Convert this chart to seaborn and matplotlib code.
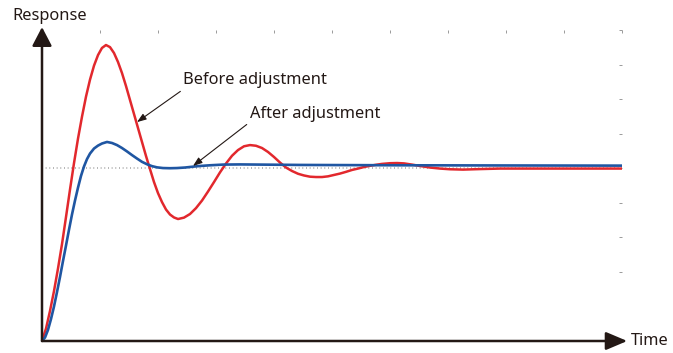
import numpy as np
import matplotlib
matplotlib.use("Agg")
import matplotlib.pyplot as plt
import seaborn as sns

# step response (time units, response units; setpoint = 1)
before_t = [0.0, 0.069, 0.138, 0.207, 0.276, 0.345, 0.414, 0.483, 0.552, 0.621,
            0.690, 0.759, 0.828, 0.897, 0.966, 1.034, 1.103, 1.172, 1.241, 1.310,
            1.379, 1.448, 1.517, 1.586, 1.655, 1.724, 1.793, 1.862, 1.931, 2.0,
            2.069, 2.138, 2.207, 2.276, 2.345, 2.448, 2.552, 2.655, 2.759, 2.862,
            2.966, 3.069, 3.172, 3.276, 3.379, 3.483, 3.586, 3.690, 3.793, 3.897,
            4.0, 4.103, 4.207, 4.310, 4.414, 4.517, 4.621, 4.724, 4.828, 4.931,
            5.034, 5.138, 5.241, 5.345, 5.448, 5.552, 5.655, 5.759, 5.862, 6.0,
            6.121, 6.241, 6.379, 6.517, 6.690, 6.862, 7.034, 7.259, 7.552, 7.897,
            8.414, 8.931, 9.448, 10.0]
before_r = [0.0, 0.072, 0.174, 0.289, 0.420, 0.561, 0.718, 0.877, 1.030, 1.172,
            1.299, 1.415, 1.513, 1.594, 1.655, 1.696, 1.713, 1.701, 1.667, 1.615,
            1.551, 1.476, 1.395, 1.314, 1.233, 1.152, 1.071, 0.995, 0.920, 0.856,
            0.804, 0.761, 0.732, 0.715, 0.706, 0.714, 0.735, 0.769, 0.813, 0.865,
            0.920, 0.976, 1.027, 1.072, 1.105, 1.127, 1.134, 1.130, 1.117, 1.094,
            1.065, 1.033, 1.004, 0.984, 0.968, 0.958, 0.951, 0.949, 0.949, 0.953,
            0.961, 0.969, 0.979, 0.990, 0.998, 1.007, 1.014, 1.020, 1.025, 1.029,
            1.030, 1.028, 1.021, 1.013, 1.004, 0.998, 0.994, 0.992, 0.995, 0.998,
            0.998, 0.998, 0.998, 0.998]

after_t = [0.0, 0.052, 0.103, 0.155, 0.207, 0.259, 0.310, 0.362, 0.414, 0.466,
           0.517, 0.569, 0.621, 0.672, 0.724, 0.776, 0.828, 0.897, 0.966, 1.034,
           1.121, 1.207, 1.293, 1.379, 1.466, 1.552, 1.638, 1.724, 1.810, 1.897,
           1.983, 2.086, 2.207, 2.328, 2.466, 2.603, 2.724, 2.897, 3.121, 3.414,
           3.759, 4.448, 6.172, 7.897, 10.0]
after_r = [0.0, 0.020, 0.064, 0.127, 0.200, 0.284, 0.370, 0.463, 0.553, 0.645,
           0.732, 0.813, 0.888, 0.955, 1.010, 1.053, 1.085, 1.114, 1.131, 1.143,
           1.152, 1.146, 1.134, 1.117, 1.097, 1.076, 1.056, 1.037, 1.023, 1.012,
           1.005, 1.001, 1.000, 1.001, 1.004, 1.009, 1.013, 1.017, 1.021, 1.022,
           1.021, 1.019, 1.017, 1.016, 1.015]

setpoint = 1.0
x_ticks = list(range(1, 11))
y_ticks = [0.4, 0.6, 0.8, 1.0, 1.2, 1.4, 1.6, 1.8]

sns.set_style("white")
plt.rcParams['font.family'] = ['Noto Sans', 'DejaVu Sans']

ink = '#231815'
red = '#e2282d'
blue = '#1f56a2'
fs = 11.8

fig = plt.figure(figsize=(6.73, 3.53), dpi=100)
ax = fig.add_axes([42 / 673, 12 / 353, 580 / 673, 311 / 353])

ax.plot([0, 10], [setpoint, setpoint], color='#9a9a9a', lw=1.1,
        linestyle=(0, (0.6, 1.8)), zorder=1)
sns.lineplot(x=after_t, y=after_r, ax=ax, color=blue, lw=1.9,
             sort=False, estimator=None, zorder=3,
             solid_joinstyle='round', solid_capstyle='round')
sns.lineplot(x=before_t, y=before_r, ax=ax, color=red, lw=1.8,
             sort=False, estimator=None, zorder=2,
             solid_joinstyle='round', solid_capstyle='round')

ax.set_xlim(0, 10)
ax.set_ylim(0, 1.8)
ax.set_xticks(x_ticks)
ax.set_yticks(y_ticks)
ax.tick_params(top=True, right=True, bottom=False, left=False,
               labelbottom=False, labelleft=False, direction='in',
               length=2.5, width=0.7, color='#9a9a9a')
for s in ax.spines.values():
    s.set_visible(False)
ax.set_xlabel('')
ax.set_ylabel('')

# axis arrows
ax.annotate('', xy=(0, 1.817), xytext=(0, 0), annotation_clip=False,
            arrowprops=dict(arrowstyle='-|>,head_length=1.15,head_width=0.6',
                            mutation_scale=10, lw=1.8, color=ink,
                            shrinkA=0, shrinkB=0))
ax.annotate('', xy=(10.09, 0), xytext=(0, 0), annotation_clip=False,
            arrowprops=dict(arrowstyle='-|>,head_length=1.3,head_width=0.55',
                            mutation_scale=10, lw=1.8, color=ink,
                            shrinkA=0, shrinkB=0))

fig.text(12 / 673, 1 - 16 / 353, 'Response', fontsize=fs, color=ink,
         ha='left', va='center')
fig.text(631 / 673, 1 - 341 / 353, 'Time', fontsize=fs, color=ink,
         ha='left', va='center')

# labels with pointer arrows
ax.annotate('Before adjustment', xy=(1.638, 1.267), xytext=(2.43, 1.51),
            fontsize=fs, color=ink, ha='left', va='center',
            arrowprops=dict(arrowstyle='-|>,head_length=0.55,head_width=0.2',
                            mutation_scale=10, lw=0.8, color=ink,
                            shrinkA=0, shrinkB=0,
                            relpos=(0.03, 0.1)))
ax.annotate('After adjustment', xy=(2.603, 1.013), xytext=(3.586, 1.314),
            fontsize=fs, color=ink, ha='left', va='center',
            arrowprops=dict(arrowstyle='-|>,head_length=0.55,head_width=0.2',
                            mutation_scale=10, lw=0.8, color=ink,
                            shrinkA=0, shrinkB=0,
                            relpos=(0.0, 0.0)))

fig.savefig('out.png', dpi=100)
